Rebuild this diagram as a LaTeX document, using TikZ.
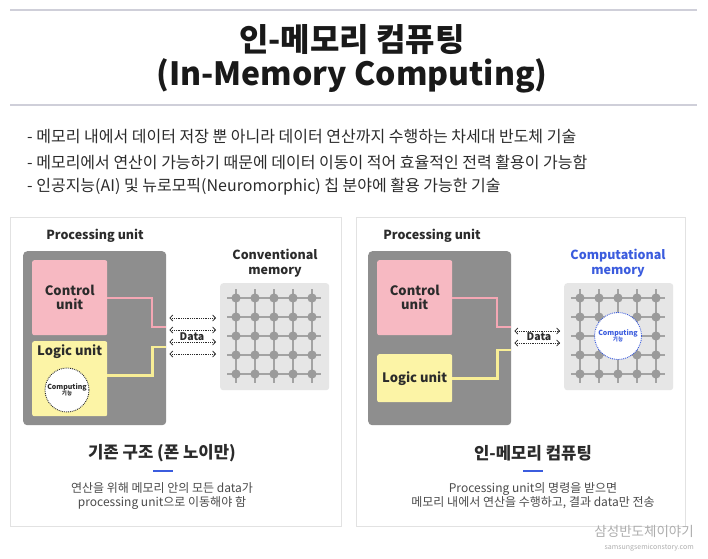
\documentclass[tikz,border=0pt]{standalone}
\usepackage{fontspec}
\setmainfont{Noto Sans CJK KR}
\usetikzlibrary{arrows.meta,positioning,calc}

\definecolor{ruleline}{HTML}{CFCFD9}
\definecolor{textdark}{HTML}{2B2B2B}
\definecolor{panelline}{HTML}{E2E2E2}
\definecolor{pugray}{HTML}{8E8E8E}
\definecolor{ctrlpink}{HTML}{F7B9C2}
\definecolor{pinkline}{HTML}{F4A7B4}
\definecolor{logicyellow}{HTML}{FCF4A6}
\definecolor{yellowline}{HTML}{F8EE96}
\definecolor{membg}{HTML}{E6E6E6}
\definecolor{gridgray}{HTML}{A3A3A3}
\definecolor{accentblue}{HTML}{3B5CDE}
\definecolor{markgray}{HTML}{ADADAD}

\begin{document}
\begin{tikzpicture}[x=1pt, y=-1pt,
        rule/.style={draw=ruleline, line width=1.6pt},
        titletext/.style={font=\bfseries\fontsize{32}{34}\selectfont, text=black!90},
        bullet/.style={anchor=west, font=\fontsize{16}{17}\selectfont, text=textdark, inner sep=0pt},
        panel/.style={rectangle, draw=panelline, line width=0.8pt, fill=white, anchor=north west},
        heading/.style={font=\bfseries\fontsize{12.5}{15}\selectfont, text=textdark, align=center},
        pubox/.style={rectangle, rounded corners=4pt, fill=pugray, anchor=north west,
            minimum width=143pt, minimum height=174pt},
        control/.style={rectangle, rounded corners=2pt, fill=ctrlpink, anchor=north west,
            minimum width=75pt, minimum height=75pt, align=center, text=textdark,
            font=\bfseries\fontsize{13}{14}\selectfont},
        logic/.style={rectangle, rounded corners=2pt, fill=logicyellow, anchor=north west,
            minimum width=75pt, text=textdark, font=\bfseries\fontsize{13}{14}\selectfont},
        membox/.style={rectangle, rounded corners=3pt, fill=membg, anchor=north west,
            minimum width=109pt, minimum height=107pt},
        computing/.style={circle, draw=textdark, densely dotted, line width=0.9pt, fill=white,
            minimum size=44pt, inner sep=0pt, align=center, text=textdark,
            font=\bfseries\fontsize{7}{8}\selectfont},
        dataflow/.style={densely dotted, line width=0.8pt, draw=textdark,
            {Straight Barb[length=2.8pt,width=6pt]}-{Straight Barb[length=2.8pt,width=6pt]},
            shorten <=3pt, shorten >=4pt},
        datalabel/.style={font=\bfseries\fontsize{10.5}{11}\selectfont, text=textdark,
            fill=white, inner sep=0.6pt},
        wirepink/.style={draw=pinkline, line width=2pt},
        wireyellow/.style={draw=yellowline, line width=2.6pt},
        gridline/.style={draw=gridgray, line width=1.4pt},
        griddot/.style={fill=gridgray!95!black},
        subhead/.style={font=\bfseries\fontsize{16.7}{18}\selectfont, text=textdark},
        bluebar/.style={rectangle, fill=accentblue, minimum width=20pt, minimum height=2.4pt, inner sep=0pt},
        desc/.style={align=center, font=\fontsize{12}{14}\selectfont, text=textdark!85},
    ]
    \useasboundingbox (0,0) rectangle (708,558);

    % header
    \draw [rule] (10,10) -- (697,10);
    \node (title) [titletext] at (352,40) {인-메모리 컴퓨팅};
    \node (titleen) [titletext] at (352,76) {(In-Memory Computing)};
    \draw [rule] (10,105) -- (697,105);

    \node (bulleta) [bullet] at (27,137) {- 메모리 내에서 데이터 저장 뿐 아니라 데이터 연산까지 수행하는 차세대 반도체 기술};
    \node (bulletb) [bullet] at (27,162) {- 메모리에서 연산이 가능하기 때문에 데이터 이동이 적어 효율적인 전력 활용이 가능함};
    \node (bulletc) [bullet] at (27,187) {- 인공지능(AI) 및 뉴로모픽(Neuromorphic) 칩 분야에 활용 가능한 기술};

    % left panel: conventional structure
    \node (panelL) [panel, minimum width=331pt, minimum height=309pt] at (10,217) {};
    \node (puheadL) [heading] at (95,236) {Processing unit};
    \node (puL) [pubox] at (23,251) {};
    \node (ctrlL) [control] at (32,260) {Control\\unit};
    \node (logicL) [logic, minimum height=75pt] at (32,341) {};
    \node (logictxtL) [logic, fill=none, anchor=north] at (logicL.north) {Logic unit};
    \node (compL) [computing] at (67,390) {Computing\\[-1.5pt]{\fontsize{5.5}{6}\selectfont 기능}};
    \node (memheadL) [heading] at (275,263.5) {Conventional\\memory};
    \node (memL) [membox] at (220,283) {};
    \begin{scope}[shift={(236,298)}]
        \foreach \k in {0,...,4} {
            \draw [gridline] (-9,19*\k) -- (85,19*\k);
            \draw [gridline] (19*\k,-9) -- (19*\k,85);
        }
        \foreach \i in {0,...,4}
            \foreach \j in {0,...,4}
                \fill [griddot] (19*\i,19*\j) circle (4.6pt);
    \end{scope}

    \coordinate (pinkendL) at (puL.east |- 0,327);
    \coordinate (yellowendL) at (puL.east |- 0,347);
    \draw [wirepink] ([yshift=-0.5pt]ctrlL.east) -- ++(45,0) |- (pinkendL);
    \draw [wireyellow] ([yshift=3pt]logicL.east) -- ++(45,0) |- (yellowendL);
    \foreach \y in {318,330,342,354}
        \draw [dataflow] (puL.east |- 0,\y) -- (memL.west |- 0,\y);
    \node (dataL) [datalabel] at (192,337) {Data};

    \node (subL) [subhead] at (162,453) {기존 구조 (폰 노이만)};
    \node (barL) [bluebar] at (163,471) {};
    \node (descL) [desc] at (162,496) {연산을 위해 메모리 안의 모든 data가\\processing unit으로 이동해야 함};

    % right panel: in-memory computing
    \node (panelR) [panel, minimum width=329pt, minimum height=309pt] at (356,217) {};
    \node (puheadR) [heading] at (432,236) {Processing unit};
    \node (puR) [pubox] at (368,251) {};
    \node (ctrlR) [control] at (377,260) {Control\\unit};
    \node (logicR) [logic, minimum height=48pt] at (377,354) {Logic unit};
    \node (memheadR) [heading, text=accentblue] at (618,263.5) {Computational\\memory};
    \node (memR) [membox] at (564,283) {};
    \begin{scope}[shift={(580,298)}]
        \foreach \k in {0,...,4} {
            \draw [gridline] (-9,19*\k) -- (85,19*\k);
            \draw [gridline] (19*\k,-9) -- (19*\k,85);
        }
        \foreach \i in {0,...,4}
            \foreach \j in {0,...,4}
                \fill [griddot] (19*\i,19*\j) circle (4.6pt);
    \end{scope}
    \node (compR) [computing, draw=accentblue, text=accentblue, minimum size=47pt] at (618,336) {Computing\\[-1.5pt]{\fontsize{5.5}{6}\selectfont 기능}};

    \coordinate (pinkendR) at (puR.east |- 0,327);
    \coordinate (yellowendR) at (puR.east |- 0,350);
    \draw [wirepink] ([yshift=-0.5pt]ctrlR.east) -- ++(45,0) |- (pinkendR);
    \draw [wireyellow] (logicR.east) -- ++(45,0) |- (yellowendR);
    \foreach \y in {331,343}
        \draw [dataflow] (puR.east |- 0,\y) -- (memR.west |- 0,\y);
    \node (dataR) [datalabel] at (539,337) {Data};

    \node (subR) [subhead] at (533,453) {인-메모리 컴퓨팅};
    \node (barR) [bluebar] at (533,471) {};
    \node (descR) [desc] at (533,496) {Processing unit의 명령을 받으면\\메모리 내에서 연산을 수행하고, 결과 data만 전송};

    % source mark
    \node (markko) [anchor=east, text=markgray, font=\fontsize{13.5}{14}\selectfont, inner sep=0pt] at (694,531) {삼성반도체이야기};
    \node (markurl) [anchor=east, text=markgray, font=\fontsize{7}{8}\selectfont, inner sep=0pt] at (694,548) {samsungsemiconstory.com};
\end{tikzpicture}
\end{document}
